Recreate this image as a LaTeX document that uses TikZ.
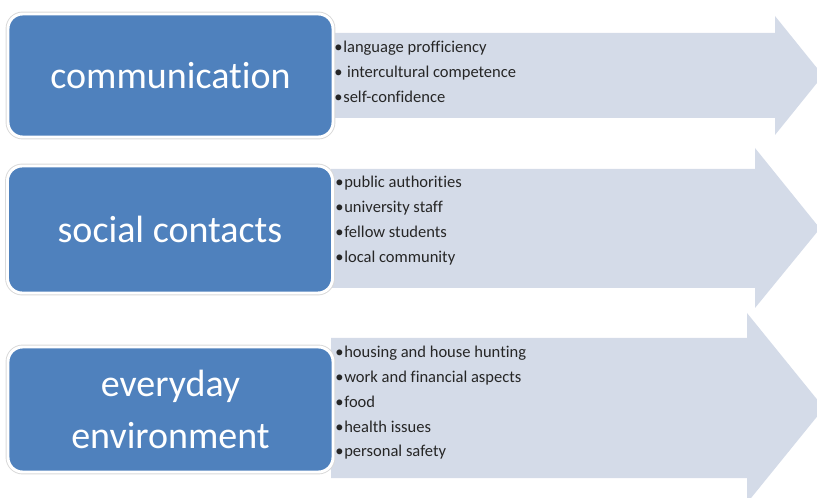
\documentclass[tikz,border=0pt]{standalone}
\usepackage{fontspec}
\setmainfont{Carlito}[Ligatures=NoCommon]
\definecolor{boxblue}{RGB}{79,129,189}
\definecolor{arrowgray}{RGB}{212,219,232}
\newcommand\bul{\textbullet\kern0.6pt}
\tikzset{
	topic/.style={rounded corners=11pt, fill=boxblue, draw=white, line width=2.2pt,
		preaction={draw=black!15, line width=3.6pt}, text=white, align=center,
		font=\fontsize{28.5}{39}\selectfont, minimum width=243.75pt, inner sep=0pt},
	item/.style={anchor=base west, inner sep=0pt, text=black!85, font=\fontsize{12.4}{14}\selectfont},
	band/.style={fill=arrowgray}
}
\begin{document}
\begin{tikzpicture}[x=0.75pt,y=-0.75pt]
	\useasboundingbox (0,0) rectangle (817,498);
	\foreach \t/\b/\h/\ht/\hb/\tip in {33/118/775/16/135/823, 169/288/755/148/308/820, 338/478/747/313/503/824}{
		\fill[band] (331,\t) -- (\h,\t) -- (\h,\ht) -- (\tip,{(\t+\b)/2}) -- (\h,\hb) -- (\h,\b) -- (331,\b) -- cycle;
	}
	\node[topic, minimum height=92.25pt] at (170.5,75.5) (comm) {communication};
	\node[topic, minimum height=95.25pt] at (170,229.5) (social) {social contacts};
	\node[topic, minimum height=93.75pt] at (170.5,409.5) (every) {everyday\\environment};
	\foreach \s [count=\k] in {language profficiency, \ intercultural competence, self-confidence}
		\node[item] at (334,{28+25*\k}) (c\k) {\bul\s};
	\foreach \s [count=\k] in {public authorities, university staff, fellow students, local community}
		\node[item] at (335,{163+25*\k}) (s\k) {\bul\s};
	\foreach \s [count=\k] in {housing and house hunting, work and financial aspects, food, health issues, personal safety}
		\node[item] at (335,{333+24.8*\k}) (e\k) {\bul\s};
\end{tikzpicture}
\end{document}
